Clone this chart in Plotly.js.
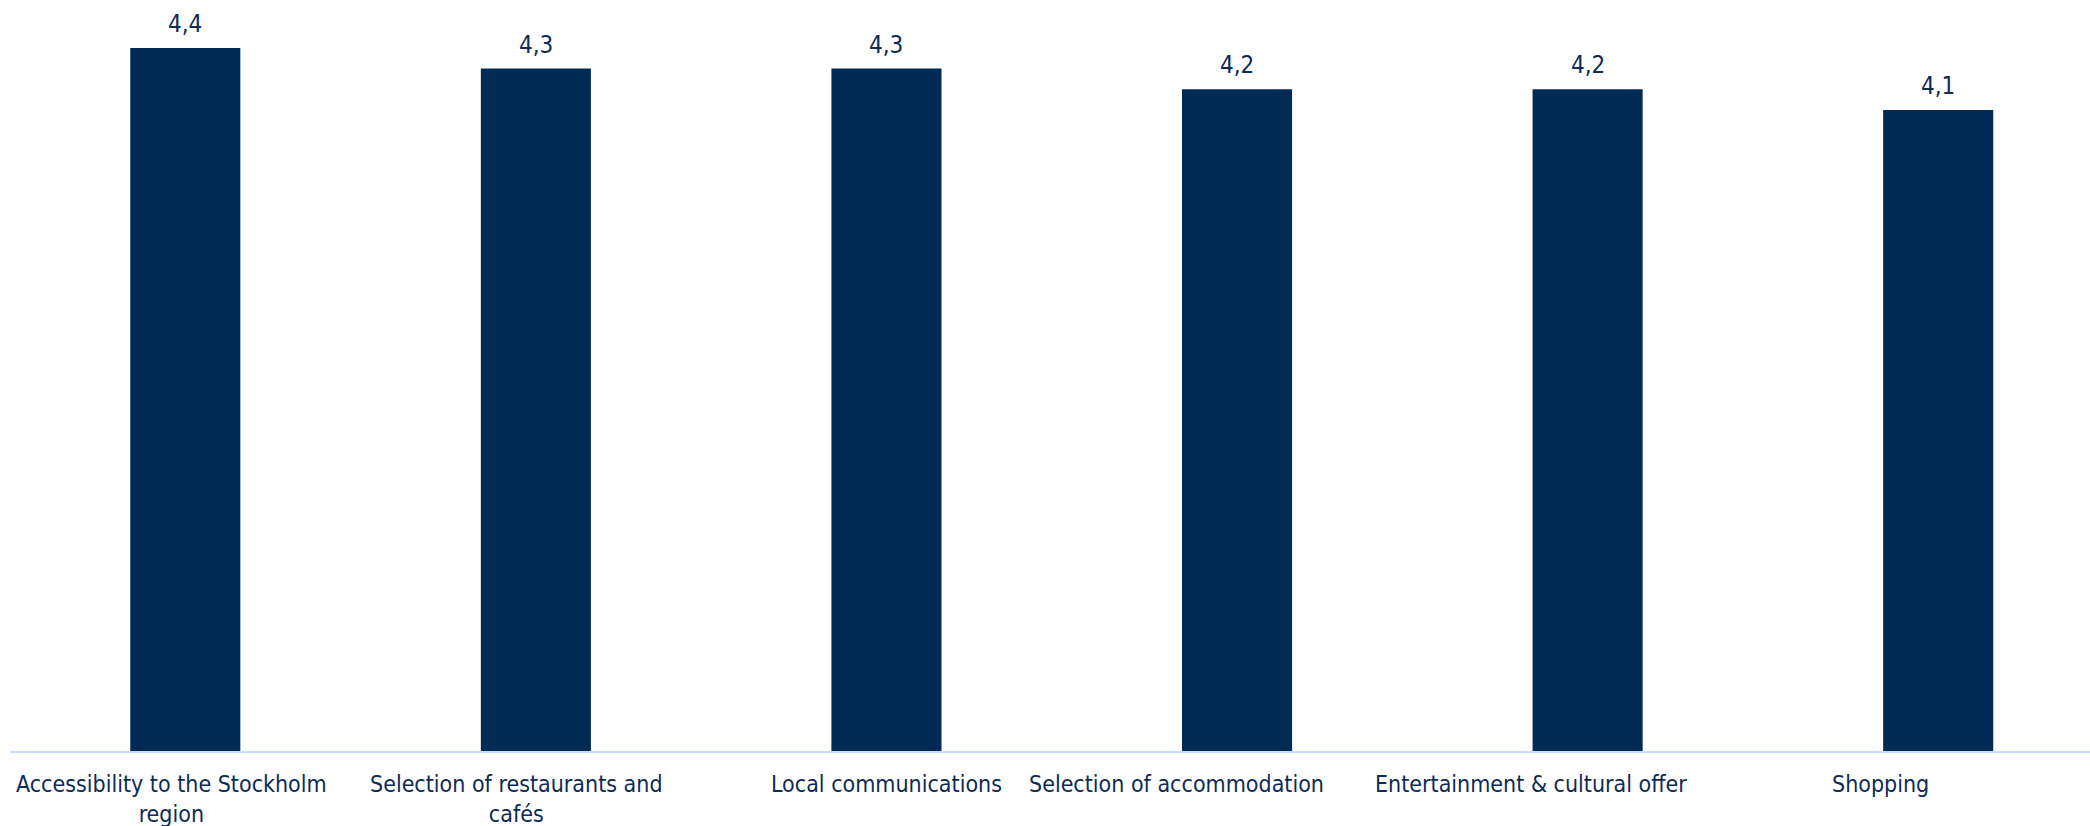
<!DOCTYPE html>
<html>
<head>
<meta charset="utf-8">
<script src="https://cdn.plot.ly/plotly-3.0.1.min.js"></script>
<style>
  html, body { margin: 0; padding: 0; background: #ffffff; }
  #chart { width: 2090px; height: 826px; }
</style>
</head>
<body>
<div id="chart"></div>
<script>
// Data
const categories = [
  "Accessibility to the Stockholm<br>region",
  "Selection of restaurants and<br>cafés",
  "Local communications",
  "Selection of accommodation",
  "Entertainment & cultural offer",
  "Shopping"
];
const values = [4.4, 4.3, 4.3, 4.2, 4.2, 4.1];

// Styling / layout (not data)
const navy = "#012a55";
const textNavy = "#0c2b55";
const fontFamily = "'DejaVu Sans Condensed', 'DejaVu Sans', sans-serif";
const labelShifts = [-14, -19, 0, -61, -57, -58];

const trace = {
  type: "bar",
  x: categories.map((c, i) => i),
  y: values,
  marker: { color: navy, line: { width: 0 } },
  hoverinfo: "skip"
};

const catAnnotations = categories.map((c, i) => ({
  x: i,
  xref: "x",
  y: 0,
  yref: "paper",
  yanchor: "top",
  xanchor: "center",
  yshift: -18,
  xshift: labelShifts[i],
  text: c,
  showarrow: false,
  align: "center",
  font: { family: fontFamily, size: 23, color: textNavy }
}));

const valueAnnotations = values.map((v, i) => ({
  x: i,
  xref: "x",
  y: v,
  yref: "y",
  yanchor: "bottom",
  xanchor: "center",
  yshift: 8,
  text: v.toFixed(1).replace(".", ","),
  showarrow: false,
  font: { family: fontFamily, size: 24, color: textNavy }
}));

const layout = {
  width: 2090,
  height: 826,
  margin: { l: 10, r: 0, t: 0, b: 75 },
  paper_bgcolor: "#ffffff",
  plot_bgcolor: "#ffffff",
  separators: ", ",
  showlegend: false,
  bargap: 0.686,
  xaxis: {
    range: [-0.5, 5.433],
    showticklabels: false,
    ticks: "",
    showgrid: false,
    zeroline: false,
    showline: true,
    linecolor: "#c6def8",
    linewidth: 2,
    fixedrange: true
  },
  yaxis: {
    range: [1, 4.6316],
    visible: false,
    showgrid: false,
    zeroline: false,
    fixedrange: true
  },
  annotations: catAnnotations.concat(valueAnnotations)
};

Plotly.newPlot("chart", [trace], layout, { displayModeBar: false, staticPlot: true });
</script>
</body>
</html>
